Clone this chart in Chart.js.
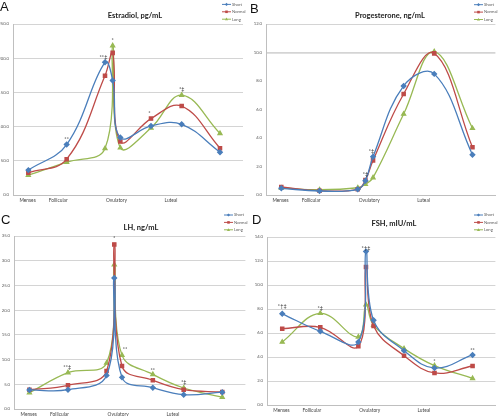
<!DOCTYPE html>
<html><head><meta charset="utf-8">
<script src="https://cdn.jsdelivr.net/npm/chart.js@4.4.0/dist/chart.umd.min.js"></script>
<style>
html,body{margin:0;padding:0;background:#fff;}
#wrap{position:relative;width:499px;height:416px;overflow:hidden;background:#fff;}
canvas{position:absolute;}
</style></head><body>
<div id="wrap">
<canvas id="cA" width="249" height="205" style="left:0px;top:0px;width:249px;height:205px"></canvas>
<canvas id="cB" width="250" height="205" style="left:249px;top:0px;width:250px;height:205px"></canvas>
<canvas id="cC" width="249" height="211" style="left:0px;top:205px;width:249px;height:211px"></canvas>
<canvas id="cD" width="250" height="211" style="left:249px;top:205px;width:250px;height:211px"></canvas>
</div>
<script>
// ---- data ----
const dayPositions = [2, 7, 12, 13, 14, 18, 22, 27];
const phaseLabels = ['Menses', 'Follicular', 'Ovulatory', 'Luteal'];
const phasePositions = [1.9, 5.9, 13.5, 20.6];
const seriesNames = ['Short', 'Normal', 'Long'];

const estradiolShort  = [36.4, 73.8, 194, 167.5, 84, 101, 103.4, 62.6];
const estradiolNormal = [32.5, 52.4, 174.3, 207.8, 78.2, 111.7, 130, 68.4];
const estradiolLong   = [29, 48, 68, 218.4, 69, 98, 146, 90];
const estradiolTicks  = [0, 50, 100, 150, 200, 250];

const progShort  = [0.47, 0.28, 0.4, 1.0, 2.69, 7.65, 8.5, 2.83];
const progNormal = [0.56, 0.3, 0.4, 1.05, 2.43, 7.09, 9.94, 3.35];
const progLong   = [0.49, 0.37, 0.51, 0.75, 1.22, 5.68, 10.06, 4.68];
const progTicks  = [0, 2, 4, 6, 8, 10, 12];

const lhShort  = [3.85, 3.9, 6.8, 26.5, 6.4, 4.3, 2.9, 3.4];
const lhNormal = [3.9, 4.8, 7.7, 33.3, 8.7, 5.8, 3.9, 3.45];
const lhLong   = [3.3, 7.35, 9.3, 29.2, 10.9, 7.0, 4.25, 2.4];
const lhTicks  = [0, 5, 10, 15, 20, 25, 30, 35];

const fshShort  = [7.6, 6.14, 5.25, 12.8, 7.06, 4.53, 3.08, 4.17];
const fshNormal = [6.36, 6.47, 4.89, 11.5, 6.58, 4.11, 2.67, 3.25];
const fshLong   = [5.25, 7.64, 5.67, 8.36, 6.64, 4.7, 3.28, 2.22];
const fshTicks  = [0, 2, 4, 6, 8, 10, 12, 14];

// significance marks: [x, y, text]
const estradiolNotes = [[7, 81, '**'], [11.8, 201, '**‡'], [13, 227, '*'], [17.8, 119, '*'], [22, 154, '*‡']];
const progNotes = [[13.8, 3.04, '*‡'], [13, 1.47, '*‡']];
const lhNotes = [[13, 34.5, '*'], [6.9, 8.4, '**‡'], [14.4, 12.1, '**'], [18, 7.9, '**'], [22, 5.5, '*‡']];
const fshNotes = [[2, 8.2, '*†‡'], [7, 8.1, '*‡'], [13, 13.1, '*†‡'], [22, 3.65, '*'], [27, 4.55, '**']];

// ---- styles ----
const colors = ['#4A7EBB', '#BE4B48', '#98B954'];
const pointStyles = ['rectRot', 'rect', 'triangle'];
const FONT = 'Lato, "Liberation Sans", Arial, sans-serif';

function drawMarker(ctx, style, x, y, r, color) {
  ctx.save();
  ctx.fillStyle = color; ctx.strokeStyle = color;
  ctx.beginPath();
  if (style === 'rectRot') { ctx.moveTo(x, y - r); ctx.lineTo(x + r, y); ctx.lineTo(x, y + r); ctx.lineTo(x - r, y); }
  else if (style === 'rect') { ctx.rect(x - r * 0.8, y - r * 0.8, r * 1.6, r * 1.6); }
  else { ctx.moveTo(x, y - r); ctx.lineTo(x + r, y + r * 0.7); ctx.lineTo(x - r, y + r * 0.7); }
  ctx.closePath(); ctx.fill();
  ctx.restore();
}

const decoPlugin = {
  id: 'panelDeco',
  afterDatasetsDraw(chart, args, o) {
    const ctx = chart.ctx;
    ctx.save();
    // panel letter
    ctx.fillStyle = '#111';
    ctx.font = '13px "Liberation Sans", Arial, sans-serif';
    ctx.textAlign = 'left'; ctx.textBaseline = 'alphabetic';
    ctx.fillText(o.letter, o.letterX, o.letterY);
    // title
    ctx.font = 'bold 7.5px ' + FONT;
    ctx.textAlign = 'center'; ctx.textBaseline = 'middle';
    ctx.fillStyle = '#222';
    ctx.fillText(o.title, o.titleX, o.titleY);
    // legend
    ctx.font = '4.2px ' + FONT;
    ctx.textAlign = 'left';
    chart.data.datasets.forEach((ds, i) => {
      const y = o.legendY + i * 7.4;
      ctx.strokeStyle = ds.borderColor; ctx.lineWidth = 1;
      ctx.beginPath(); ctx.moveTo(o.legendX, y); ctx.lineTo(o.legendX + 9, y); ctx.stroke();
      drawMarker(ctx, ds.pointStyle, o.legendX + 4.5, y, 1.6, ds.borderColor);
      ctx.fillStyle = '#595959';
      ctx.fillText(ds.label, o.legendX + 10, y);
    });
    // significance marks
    const xs = chart.scales.x, ys = chart.scales.y;
    ctx.font = '5.5px ' + FONT;
    ctx.fillStyle = '#333';
    ctx.textAlign = 'center'; ctx.textBaseline = 'middle';
    (o.notes || []).forEach(n => {
      ctx.fillText(n[2], xs.getPixelForValue(n[0]), ys.getPixelForValue(n[1]));
    });
    ctx.restore();
  }
};

function makePanel(id, values, ticks, notes, cfg) {
  const datasets = values.map((vals, i) => ({
    label: seriesNames[i],
    data: dayPositions.map((d, j) => ({ x: d, y: vals[j] })),
    borderColor: colors[i],
    backgroundColor: colors[i],
    pointStyle: pointStyles[i],
    pointRadius: 2.3,
    pointHoverRadius: 2.3,
    borderWidth: 1.3,
    tension: 0.4,
    fill: false
  }));
  return new Chart(document.getElementById(id), {
    type: 'line',
    data: { datasets },
    plugins: [decoPlugin],
    options: {
      responsive: false,
      animation: false,
      events: [],
      layout: { padding: { top: cfg.top, right: cfg.right, left: 0, bottom: 0 } },
      scales: {
        x: {
          type: 'linear', min: 0, max: 30,
          afterBuildTicks: (axis) => { axis.ticks = phasePositions.map(v => ({ value: v })); },
          afterFit: (scale) => { scale.height = cfg.xh; },
          ticks: {
            autoSkip: false, maxRotation: 0, padding: cfg.xpad,
            font: { family: FONT, size: 4.8 }, color: '#444',
            callback: (v, i) => phaseLabels[i]
          },
          grid: { display: false, drawTicks: false },
          border: { display: true, color: '#bfbfbf', width: 1 }
        },
        y: {
          min: ticks[0], max: ticks[ticks.length - 1],
          afterBuildTicks: (axis) => { axis.ticks = ticks.map(v => ({ value: v })); },
          afterFit: (scale) => { scale.width = cfg.yw; },
          ticks: {
            padding: 4, font: { family: FONT, size: 4.2 }, color: '#555',
            callback: (v) => Number(v).toFixed(1)
          },
          grid: {
            drawTicks: false,
            color: (c) => (cfg.gridOnly ? (cfg.gridOnly.includes(c.tick.value) ? '#d4d4d4' : 'rgba(0,0,0,0)') : '#d4d4d4'),
            lineWidth: (c) => (cfg.gridOnly && c.tick.value === 10 ? 1.8 : 1)
          },
          border: { display: true, color: '#bfbfbf', width: 1 }
        }
      },
      plugins: {
        legend: { display: false },
        title: { display: false },
        tooltip: { enabled: false },
        panelDeco: Object.assign({ notes }, cfg.deco)
      }
    }
  });
}

makePanel('cA', [estradiolShort, estradiolNormal, estradiolLong], estradiolTicks, estradiolNotes, {
  top: 24, right: 6, xh: 10, xpad: 3, yw: 13,
  deco: { letter: 'A', letterX: 0, letterY: 11, title: 'Estradiol, pg/mL', titleX: 135, titleY: 16, legendX: 222, legendY: 4.4 }
});
makePanel('cB', [progShort, progNormal, progLong], progTicks, progNotes, {
  top: 24, right: 1, xh: 10, xpad: 3, yw: 17, gridOnly: [10, 12],
  deco: { letter: 'B', letterX: 1, letterY: 12.5, title: 'Progesterone, ng/mL', titleX: 141, titleY: 16, legendX: 225, legendY: 4.7 }
});
makePanel('cC', [lhShort, lhNormal, lhLong], lhTicks, lhNotes, {
  top: 31, right: 1, xh: 7, xpad: 2.5, yw: 14,
  deco: { letter: 'C', letterX: 1, letterY: 18.5, title: 'LH, ng/mL', titleX: 141, titleY: 22.7, legendX: 224, legendY: 10 }
});
makePanel('cD', [fshShort, fshNormal, fshLong], fshTicks, fshNotes, {
  top: 32, right: 3, xh: 11, xpad: 3, yw: 18,
  deco: { letter: 'D', letterX: 3, letterY: 18.5, title: 'FSH, mIU/mL', titleX: 145, titleY: 18.3, legendX: 225, legendY: 10 }
});
</script>
